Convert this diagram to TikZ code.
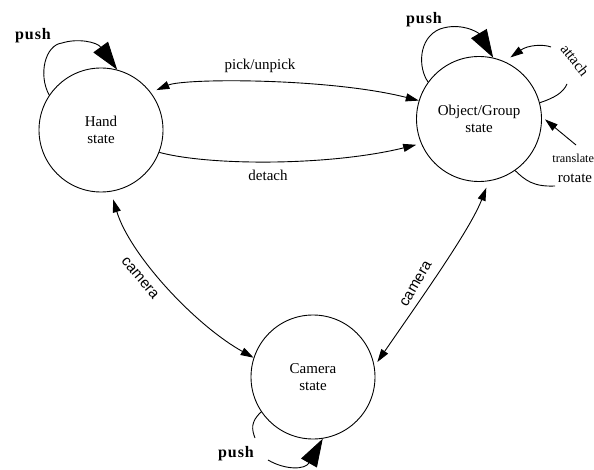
\documentclass[tikz,border=0pt]{standalone}
\usepackage{fontspec}
\setmainfont{Liberation Serif}
\newfontfamily\camfont{Liberation Sans}
\usetikzlibrary{arrows.meta}
\begin{document}
\begin{tikzpicture}[x=1pt,y=-1pt,line width=0.9pt,
  state/.style={circle,draw,minimum size=124pt,inner sep=0pt,align=center,font=\fontsize{15}{17}\selectfont},
  lbl/.style={font=\fontsize{15}{17}\selectfont,inner sep=0pt},
  camlbl/.style={font=\camfont\fontsize{15}{17}\selectfont,inner sep=0pt},
  pushlbl/.style={font=\fontsize{16}{18}\selectfont\bfseries\addfontfeature{LetterSpace=6},inner sep=0pt},
  conn/.style={-{Triangle[length=13pt,width=8pt]}},
  biconn/.style={{Triangle[length=13pt,width=8pt]}-{Triangle[length=13pt,width=8pt]}},
  bigtip/.style={-{Triangle[length=28pt,width=18pt]}}]
\useasboundingbox (0,0) rectangle (594,470);

% states
\node[state] (H) at (101,130) {Hand\\state};
\node[state,minimum size=125pt] (O) at (479,119) {Object/Group\\state};
\node[state] (C) at (313,377) {Camera\\state};

% pick/unpick and detach
\draw[biconn,shorten <=6pt] (H.37) .. controls (185,78) and (330,78) .. (O.163);
\node[lbl] (pick) at (260,66) {pick/unpick};
\draw[conn,shorten >=5pt] (H.-21) .. controls (210,166) and (330,166) .. (O.203);
\node[lbl] (detach) at (268,175) {detach};

% camera transitions
\draw[biconn,shorten <=8pt] (H.-81) .. controls (130,255) and (195,325) .. (C.162);
\node[camlbl,rotate=-50] (cam1) at (140,278) {camera};
\draw[biconn,shorten <=7pt,shorten >=5pt] (O.-81) .. controls (470,230) and (420,300) .. (C.10);
\node[camlbl,rotate=60] (cam2) at (416,284) {camera};

% push loops
\node[pushlbl] (push1) at (33,36) {push};
\draw[bigtip] (H.146) .. controls (38,75) and (45,45) .. (62,43) .. controls (78,38) and (97,42) .. (H.75);
\node[pushlbl] (push2) at (424,20) {push};
\draw[bigtip] (O.144) .. controls (418,68) and (418,38) .. (440,29) .. controls (460,22) and (478,32) .. (O.77);
\node[pushlbl] (push3) at (236,454) {push};
\coordinate (cpa) at (255,438);
\coordinate (cpb) at (268,460);
\draw (C.214) .. controls (250,422) and (252,430) .. (cpa);
\draw[bigtip] (cpb) .. controls (285,470) and (305,470) .. (C.279);

% attach
\coordinate (ata) at (567,84);
\coordinate (atb) at (551,47);
\draw (O.15) .. controls (554,98) and (563,93) .. (ata);
\node[lbl,rotate=-52] (attach) at (575,60) {attach};
\draw[conn,shorten >=7pt] (atb) .. controls (543,44) and (528,45) .. (O.66);

% translate / rotate
\coordinate (trc) at (576,145);
\draw[conn,shorten >=4pt] (trc) -- (O.2);
\node[lbl,font=\fontsize{12.3}{14}\selectfont,anchor=west] (translate) at (552,158) {translate};
\coordinate (rtc) at (555,186);
\draw (O.-55) .. controls (525,180) and (533,187) .. (rtc);
\node[lbl] (rotate) at (575,178) {rotate};
\end{tikzpicture}
\end{document}
